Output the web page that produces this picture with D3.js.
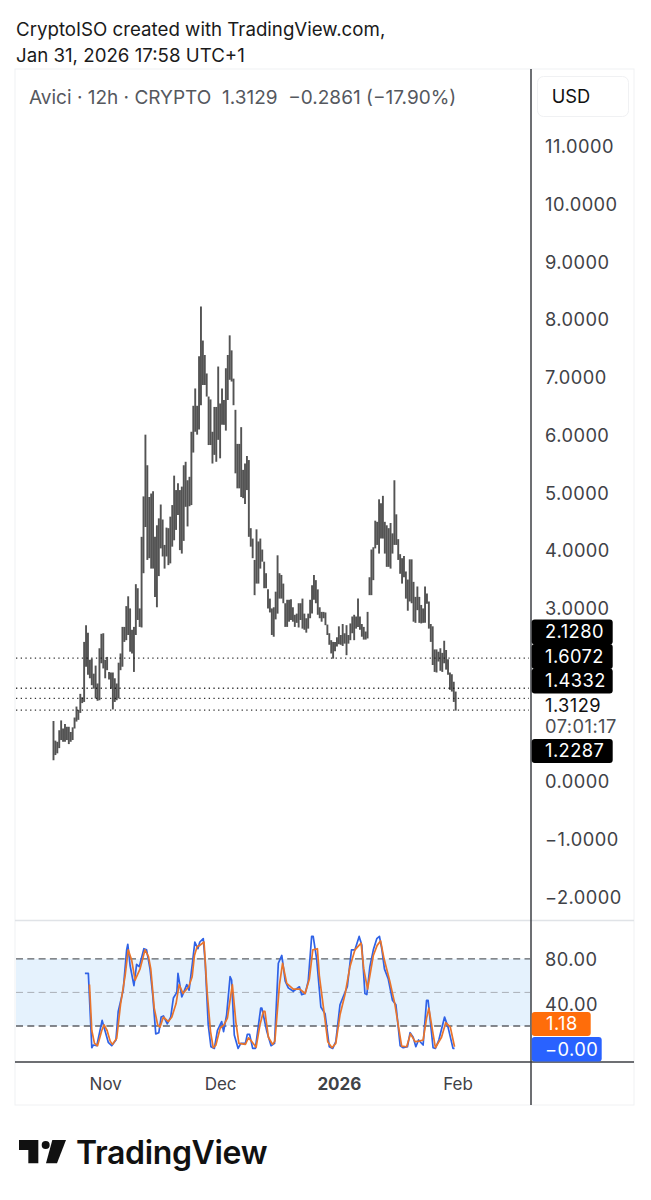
<!DOCTYPE html>
<html>
<head>
<meta charset="utf-8">
<script src="https://cdn.jsdelivr.net/npm/d3@7"></script>
<style>
html, body { margin: 0; padding: 0; background: #fff; }
svg { display: block; font-family: Inter, "Noto Sans", sans-serif; }
</style>
</head>
<body>
<div id="chart"></div>
<script>
// 12h bars (last bar is Jan 31 12:00)
var barHighs = [
	1.04,.70,.68,.88,1.05,.91,.99,.94,.94,.85,.93,1.10,1.29,1.23,1.51,1.45,2.41,2.70,2.57,2.10,2.12,1.86,2.00,1.69,
	2.30,2.55,2.56,2.10,2.15,1.89,1.88,1.88,1.78,1.69,2.05,2.21,2.67,2.67,3.03,3.20,2.99,2.62,2.67,3.41,3.34,2.99,4.23,
	4.93,6.00,5.47,4.92,4.98,5.02,4.23,4.43,4.55,4.79,4.53,4.09,4.39,4.38,4.58,4.78,5.29,5.04,5.16,5.04,5.10,5.47,5.53,
	5.21,5.27,6.05,6.50,6.80,6.50,7.36,8.22,7.63,7.38,7.06,6.66,6.61,6.05,6.48,6.48,7.18,6.54,6.80,6.60,7.15,7.38,7.72,
	7.46,6.97,6.43,5.84,5.84,6.13,5.39,5.50,5.63,5.56,4.38,4.20,3.83,4.36,4.15,
	4.20,4.01,3.80,3.60,3.32,3.16,2.99,3.01,3.28,3.91,3.60,3.57,3.42,3.08,3.14,3.14,3.15,3.01,2.88,2.90,3.08,3.08,3.16,
	2.90,2.82,2.90,3.14,3.39,3.57,3.48,3.32,3.01,2.93,2.93,2.92,2.71,2.56,2.44,2.41,2.41,2.49,2.68,2.53,2.72,2.56,2.70,
	2.53,2.73,2.85,2.88,2.85,3.16,2.85,2.72,2.67,2.59,2.93,3.53,
	4.01,4.05,4.51,4.49,4.88,4.81,4.94,4.49,4.43,4.38,4.47,4.29,5.21,4.62,4.19,3.93,3.86,3.90,3.63,3.49,3.84,3.84,3.45,
	3.19,3.37,3.19,3.05,2.99,3.37,3.25,3.11,2.72,2.68,2.28,2.28,2.24,2.30,2.22,2.43,2.27,2.11,1.88,1.85,1.72,1.55
];
var barLows = [
	.36,.45,.48,.57,.71,.68,.68,.71,.64,.68,.71,.91,1.03,1.06,1.18,1.35,1.37,1.98,1.84,1.78,1.66,1.60,1.43,1.39,
	1.40,2.04,1.95,1.78,1.92,1.76,1.60,1.24,1.37,1.40,1.43,1.92,1.98,2.41,2.44,2.53,2.24,2.21,1.89,2.53,2.79,2.67,2.66,
	3.60,4.40,3.83,3.86,3.68,3.68,3.19,3.01,3.55,4.03,3.89,3.68,3.89,3.74,3.77,4.06,4.17,4.35,4.61,4.00,3.94,4.16,4.75,
	4.41,4.76,4.78,5.69,6.05,6.00,6.09,6.51,6.86,6.86,6.66,5.82,5.82,5.50,5.65,5.53,5.91,5.59,6.17,6.17,6.07,6.60,6.95,
	6.92,6.51,5.33,5.07,5.07,4.92,4.90,4.80,5.04,4.23,4.06,3.86,3.22,3.42,3.42,
	3.68,3.80,3.34,3.34,2.99,2.92,2.53,2.50,2.80,2.90,3.16,3.16,3.08,2.67,2.67,2.76,2.79,2.76,2.67,2.74,2.66,2.79,2.64,
	2.62,2.57,2.64,2.82,2.90,3.14,3.08,2.88,2.82,2.76,2.82,2.70,2.53,2.36,2.21,2.12,2.25,2.33,2.37,2.36,2.34,2.38,2.18,
	2.38,2.44,2.56,2.44,2.64,2.67,2.62,2.50,2.45,2.45,2.47,3.22,
	3.22,3.48,4.03,4.09,3.94,4.20,4.20,3.94,3.71,3.71,3.68,3.94,4.09,4.09,3.83,3.59,3.42,3.53,3.16,2.95,3.11,3.08,2.76,
	2.74,2.96,2.74,2.73,2.74,2.74,3.07,2.64,2.41,2.01,1.89,1.88,2.07,1.91,1.89,2.04,1.93,1.84,1.58,1.55,1.37,1.22
];

// horizontal levels and the price axis
var levelPrices = [2.1280, 1.6072, 1.4332, 1.2287];
var priceTicks = [11, 10, 9, 8, 7, 6, 5, 4, 3, 0, -1, -2];
var stochTicks = [80, 40];
var timeTicks = [new Date(Date.UTC(2025, 10, 1)), new Date(Date.UTC(2025, 11, 1)), new Date(Date.UTC(2026, 0, 1)), new Date(Date.UTC(2026, 1, 1))];
var timeLabels = ["Nov", "Dec", "2026", "Feb"];

// stoch rsi turning points: days since Nov 1, value
var kDays = [-5.3,-4.4,-3.5,-3.1,-2.2,-0.8,0.8,1.7,2.8,3.4,4.7,5.6,5.9,6.5,7.5,8.2,8.9,10.1,10.8,11.7,12.4,13.2,14,14.6,15.2,16.2,17.1,17.8,18.7,19,20,21.3,21.9,22.8,23.4,24.2,24.7,25.6,26.1,26.9,27.6,28.5,29.3,30.4,30.9,31.7,32.6,33,33.7,34.7,35.4,36.6,37.1,37.7,38.5,39.2,40.6,40.9,42.2,43.3,44.2,45.2,46.1,47,47.8,49.1,50.7,51.3,52.2,53,53.9,54.3,55.2,56.3,57.4,58.5,59.4,60.2,61.3,62,63.2,64.3,65.2,66.3,67,67.8,68.3,69.1,70,70.9,71.6,72.2,72.9,73.9,75,75.9,77,77.8,78.9,79.6,80.4,81.1,81.8,83,83.9,84.3,85.6,86.2,87.1,88.6,89.5,90.8,91.2];
var kValues = [67,67,0.6,3,2.4,25,5.4,2.4,7.4,33,52,88,93,74,56,75,73,89,88,71,48,13,14,28,29,22,28,45,50,67,46,57,52,77,95,89,95,98,77,21,1.5,0,16,24,15,30,64,61,12,0,4.5,4.5,12.5,12.5,0,0,36,36,15,2.4,4.5,76,83,60,54,51,55,48,49,60,100,100,80,37,31,1.5,0,6,39,45,55,88,88,100,92,49,48,73,88,98,100,89,71,62,43,39,2.4,0.6,1.5,14,10,1.5,7.5,3,43,43,0.6,0,7.5,28,19,0,0];
var dDays = [-4.1,-3.5,-2.8,-2,-0.9,-0.3,0.5,1.3,1.9,3,4,5.2,6,6.9,7.8,9.1,10.4,11.3,11.9,12.8,13.7,14.3,15.2,16.5,17.4,18.5,19.3,20.3,21.8,22.7,23.3,24,24.7,25.8,26.6,27.5,28.2,28.9,30,31,31.9,33.2,34.1,34.9,36.6,37.4,38.3,39.4,40.4,41.3,41.7,42.6,43.7,44.3,45.5,46.3,47.4,49.1,50.8,52.2,53.3,54.2,55.4,55.9,57,58.1,59.2,60.2,61.3,62.6,63.9,65.2,66.8,67.5,68.5,70,71,71.9,72.8,74.3,75.6,76.5,77.4,78.7,79.7,80.9,82,83,83.9,84.5,85.5,86.2,87.8,88.9,90.1,91.2];
var dValues = [57,16,4.5,2.4,16,21,16,6.5,3.6,9,39,65,88,79,61,71,88,82,71,36,21,19,28,24,28,40,57,49,55,64,83,91,92,95,51,15,0.6,3,18,21,27,57,24,4.5,3.6,9.5,6,1,21,33,33,10,3.6,6.5,57,76,58,53,53,49,62,88,89,65,36,6,0.6,4.5,30,48,73,88,94,71,53,83,92,96,80,60,40,21,2,1.5,13,6,6.5,7.5,27,36,15,0.6,10,23,19,1.5];

var width = 651, height = 1200;
var frameLeft = 15, frameRight = 634, frameTop = 69, frameBottom = 1105;
var axisX = 531;
var dayMs = 86400000;
var nov1 = timeTicks[0].getTime();
var labelSize = 18.3, labelSpacing = 0.45;

var x = d3.scaleUtc().domain([timeTicks[0], timeTicks[3]]).range([105.2, 457.6]);
var y = d3.scaleLinear().domain([-2, 11]).range([896.5, 146]);
var yStoch = d3.scaleLinear().domain([0, 100]).range([1048.4, 936.4]);

var svg = d3.select("#chart").append("svg").attr("width", width).attr("height", height);
svg.append("rect").attr("width", width).attr("height", height).attr("fill", "#fff");

// header
svg.append("text").attr("x", 16).attr("y", 36).attr("font-size", 18.7).attr("fill", "#1a1a1a").text("CryptoISO created with TradingView.com,");
svg.append("text").attr("x", 16).attr("y", 62).attr("font-size", 18.7).attr("fill", "#1a1a1a").text("Jan 31, 2026 17:58 UTC+1");

// frame
svg.append("rect").attr("x", frameLeft).attr("y", frameTop).attr("width", frameRight - frameLeft).attr("height", frameBottom - frameTop)
	.attr("fill", "none").attr("stroke", "#f0f1f3").attr("stroke-width", 1);

// stoch band
svg.append("rect").attr("x", frameLeft + 1).attr("width", axisX - frameLeft - 1)
	.attr("y", yStoch(80)).attr("height", yStoch(20) - yStoch(80)).attr("fill", "#e5f2fd");

// pane separator
svg.append("line").attr("x1", frameLeft).attr("x2", frameRight).attr("y1", 920.5).attr("y2", 920.5).attr("stroke", "#e0e3e7").attr("stroke-width", 1.5);

// level lines
svg.append("g").selectAll("line").data(levelPrices).join("line")
	.attr("x1", frameLeft + 1).attr("x2", 529)
	.attr("y1", function(d){ return y(d); }).attr("y2", function(d){ return y(d); })
	.attr("stroke", "#333").attr("stroke-width", 1.3).attr("stroke-dasharray", "1.3 3.4");

// bars
var lastBar = Date.UTC(2026, 0, 31, 12);
svg.append("g").selectAll("line").data(barHighs).join("line")
	.attr("x1", function(d, i){ return x(new Date(lastBar - (barHighs.length - 1 - i) * dayMs / 2)); })
	.attr("x2", function(d, i){ return x(new Date(lastBar - (barHighs.length - 1 - i) * dayMs / 2)); })
	.attr("y1", function(d){ return y(d); })
	.attr("y2", function(d, i){ return y(barLows[i]); })
	.attr("stroke", "#111").attr("stroke-opacity", 0.72).attr("stroke-width", 1.9);

// stoch guide lines
svg.append("g").selectAll("line").data([80, 50, 20]).join("line")
	.attr("x1", frameLeft + 1).attr("x2", axisX - 1)
	.attr("y1", function(d){ return yStoch(d); }).attr("y2", function(d){ return yStoch(d); })
	.attr("stroke", function(d){ return d === 50 ? "#a9afb7" : "#5d6066"; })
	.attr("stroke-width", function(d){ return d === 50 ? 1 : 1.3; })
	.attr("stroke-dasharray", "7 4.3");

var stochLine = d3.line()
	.x(function(d){ return x(new Date(nov1 + d[0] * dayMs)); })
	.y(function(d){ return yStoch(d[1]); });

svg.append("path").attr("d", stochLine(d3.zip(kDays, kValues)))
	.attr("fill", "none").attr("stroke", "#2f62e6").attr("stroke-width", 1.7).attr("stroke-linejoin", "round");
svg.append("path").attr("d", stochLine(d3.zip(dDays, dValues)))
	.attr("fill", "none").attr("stroke", "#e9742b").attr("stroke-width", 1.7).attr("stroke-linejoin", "round");

// axis lines
svg.append("line").attr("x1", axisX).attr("x2", axisX).attr("y1", frameTop).attr("y2", frameBottom).attr("stroke", "#3c3f44").attr("stroke-width", 1.5);
svg.append("line").attr("x1", frameLeft).attr("x2", frameRight).attr("y1", 1062).attr("y2", 1062).attr("stroke", "#3c3f44").attr("stroke-width", 1.5);

// price axis
var priceFormat = function(d){ return (d < 0 ? "\u2212" : "") + Math.abs(d).toFixed(4); };
var priceAxis = svg.append("g").attr("transform", "translate(" + axisX + ",0.8)")
	.call(d3.axisRight(y).tickValues(priceTicks).tickSize(0).tickPadding(14).tickFormat(priceFormat));
priceAxis.select(".domain").remove();
priceAxis.selectAll("text").attr("font-family", "Inter").attr("font-size", labelSize).attr("letter-spacing", labelSpacing).attr("fill", "#3f4247");

var stochAxis = svg.append("g").attr("transform", "translate(" + axisX + ",0.8)")
	.call(d3.axisRight(yStoch).tickValues(stochTicks).tickSize(0).tickPadding(14).tickFormat(function(d){ return d.toFixed(2); }));
stochAxis.select(".domain").remove();
stochAxis.selectAll("text").attr("font-family", "Inter").attr("font-size", labelSize).attr("letter-spacing", labelSpacing).attr("fill", "#3f4247");

// time axis
var timeAxis = svg.append("g").attr("transform", "translate(0,1062)")
	.call(d3.axisBottom(x).tickValues(timeTicks).tickSize(0).tickPadding(16).tickFormat(function(d, i){ return timeLabels[i]; }));
timeAxis.select(".domain").remove();
timeAxis.selectAll("text").attr("font-family", "Inter").attr("font-size", 17).attr("fill", "#3f4247")
	.attr("font-weight", function(d, i){ return timeLabels[i] === "2026" ? 700 : 400; });

// price tags
function tag(text, top, h, w, fill, color, tx){
	svg.append("rect").attr("x", axisX + 0.7).attr("y", top).attr("width", w).attr("height", h).attr("rx", 3).attr("fill", fill);
	svg.append("text").attr("x", tx).attr("y", top + h / 2).attr("dy", "0.35em")
		.attr("font-size", labelSize).attr("letter-spacing", labelSpacing).attr("fill", color).text(text);
}
tag("2.1280", 619.5, 25, 81, "#000", "#fff", 545);
tag("1.6072", 644, 25, 81, "#000", "#fff", 545);
tag("1.4332", 668.5, 25, 81, "#000", "#fff", 545);
svg.append("text").attr("x", 545).attr("y", 706).attr("dy", "0.35em").attr("font-size", labelSize).attr("letter-spacing", labelSpacing).attr("fill", "#111").text("1.3129");
svg.append("text").attr("x", 545).attr("y", 727).attr("dy", "0.35em").attr("font-size", labelSize).attr("letter-spacing", labelSpacing).attr("fill", "#4a4d52").text("07:01:17");
tag("1.2287", 739, 24, 81, "#000", "#fff", 545);
tag("1.18", 1012, 24, 59, "#ff6d0a", "#fff", 546);
tag("\u22120.00", 1037, 24.5, 70, "#2962ff", "#fff", 545);

// legend line
svg.append("text").attr("x", 29).attr("y", 97).attr("dy", "0.35em").attr("font-size", 19).attr("fill", "#55585e")
	.attr("xml:space", "preserve").text("Avici \u00b7 12h \u00b7 CRYPTO  1.3129  \u22120.2861 (\u221217.90%)");

// USD button
svg.append("rect").attr("x", 537.5).attr("y", 76.5).attr("width", 91).attr("height", 40).attr("rx", 6).attr("fill", "#fff").attr("stroke", "#f0f1f3");
svg.append("text").attr("x", 571).attr("y", 97).attr("dy", "0.35em").attr("text-anchor", "middle").attr("font-size", 18.3).attr("fill", "#111").text("USD");

// logo
var logo = svg.append("g").attr("transform", "translate(0,1100) scale(0.3333)").attr("fill", "#111");
logo.append("path").attr("d", "M57 120H115V190H85V150H57Z");
logo.append("circle").attr("cx", 137).attr("cy", 135).attr("r", 12);
logo.append("path").attr("d", "M157 120H198L171 190H138Z");
svg.append("text").attr("x", 76).attr("y", 1164).attr("font-size", 32).attr("font-weight", 600).attr("fill", "#111").attr("letter-spacing", -0.35).text("TradingView");
</script>
</body>
</html>
